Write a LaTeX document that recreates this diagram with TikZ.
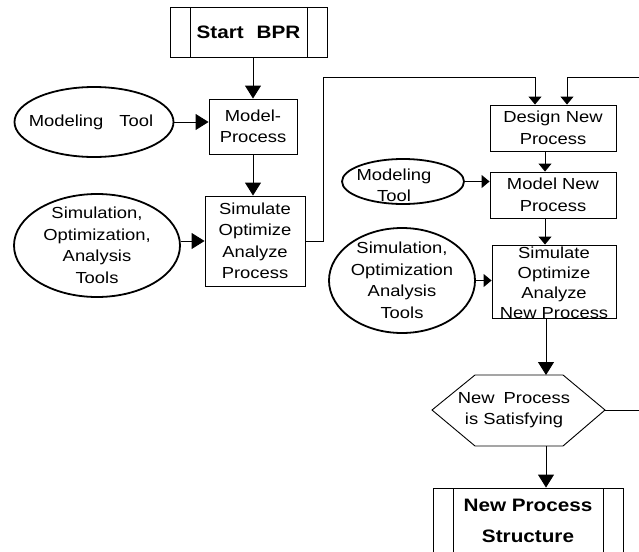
\documentclass[tikz,border=0pt]{standalone}
\usepackage{fontspec}
\setmainfont[FakeStretch=1.15]{Liberation Sans}
\usetikzlibrary{arrows.meta,calc,shapes.geometric}

\begin{document}
\begin{tikzpicture}[x=1pt,y=-1pt,
  every label/.style={align=center,inner sep=0pt},
  txt/.style={font=\fontsize{16}{21.5}\selectfont},
  bold/.style={font=\fontsize{18}{31}\selectfont\bfseries},
  box/.style={draw,rectangle,inner sep=0pt,line width=0.9pt},
  predef/.style={box,
    path picture={
      \draw[line width=0.9pt] ([xshift=20pt]path picture bounding box.north west) -- ([xshift=20pt]path picture bounding box.south west);
      \draw[line width=0.9pt] ([xshift=-20pt]path picture bounding box.north east) -- ([xshift=-20pt]path picture bounding box.south east);
    }},
  tool/.style={draw,ellipse,inner sep=0pt,line width=1.8pt},
  link/.style={line width=0.9pt,-{Triangle[length=13pt,width=16pt]}},
  linksm/.style={line width=0.9pt,-{Triangle[length=8pt,width=13pt]}},
]
\useasboundingbox (0,0) rectangle (639,551);
\clip (0,0) rectangle (639,551);

% left column
\node[predef,minimum width=157pt,minimum height=50pt,
  label={[bold]center:{Start\hspace{13pt}BPR}}] (start) at (248.5,32) {};
\node[box,minimum width=88pt,minimum height=55pt,
  label={[txt]center:{Model-\\Process}}] (mp) at (253,126.5) {};
\node[box,minimum width=100pt,minimum height=90pt,
  label={[txt]center:{Simulate\\Optimize\\Analyze\\Process}}] (sim) at (255,241) {};
\node[tool,minimum width=159pt,minimum height=70pt,
  label={[txt,xshift=-3pt]center:{Modeling\hspace{16pt}Tool}}] (e1) at (94,122) {};
\node[tool,minimum width=166pt,minimum height=103pt,
  label={[txt]center:{Simulation,\\Optimization,\\Analysis\\Tools}}] (e2) at (97,245.5) {};

% right column
\node[box,minimum width=126pt,minimum height=46pt,
  label={[txt]center:{Design New\\Process}}] (design) at (553,128) {};
\node[box,minimum width=126pt,minimum height=46pt,
  label={[txt]center:{Model New\\Process}}] (model) at (553,195) {};
\node[tool,minimum width=122pt,minimum height=45pt,
  label={[txt,xshift=-9pt,yshift=-4pt]center:{Modeling\\Tool}}] (e3) at (403,181.5) {};
\node[box,minimum width=124pt,minimum height=73pt,
  label={[font=\fontsize{16}{20}\selectfont,yshift=-1pt]center:{Simulate\\Optimize\\Analyze\\New Process}}] (simn) at (554,281.5) {};
\node[tool,minimum width=146pt,minimum height=105pt,
  label={[txt]center:{Simulation,\\Optimization\\Analysis\\Tools}}] (e4) at (402,280.5) {};

% decision
\draw[box] (432,410) coordinate (hexW) -- (475,375) -- (563,375)
  -- (605,410) coordinate (hexE) -- (563,446) -- (475,446) -- cycle;
\coordinate (hexN) at (546,375);
\coordinate (hexS) at (546,446);
\node[txt,align=center,inner sep=0pt] (hex) at (514,410) {New\hspace{9pt}Process\\is Satisfying};

\node[predef,minimum width=190pt,minimum height=66pt,
  label={[bold]center:{New Process\\Structure}}] (nps) at (528,521) {};

% connectors
\coordinate (c1) at (323,77);
\coordinate (c2) at (655,77);
\draw[link] (start.south -| mp.north) -- (mp.north);
\draw[link] (e1.east) -- (e1.east -| mp.west);
\draw[link] (mp.south) -- (mp.south |- sim.north);
\draw[link] (e2.east |- sim.west) -- (sim.west);
\draw[linksm] (sim.east) -| (c1) -| ([xshift=-18pt]design.north);
\draw[linksm] (hexE) -| (c2) -| ([xshift=14pt]design.north);
\draw[linksm] ([xshift=-8pt]design.south) -- ([xshift=-8pt]design.south |- model.north);
\draw[linksm] (e3.east) -- (e3.east -| model.west);
\draw[linksm] ([xshift=-8pt]model.south) -- ([xshift=-8pt]model.south |- simn.north);
\draw[linksm] (e4.east) -- (e4.east -| simn.west);
\draw[link] (simn.south -| hexN) -- (hexN);
\draw[link] (hexS) -- (hexS |- nps.north);
\end{tikzpicture}
\end{document}
